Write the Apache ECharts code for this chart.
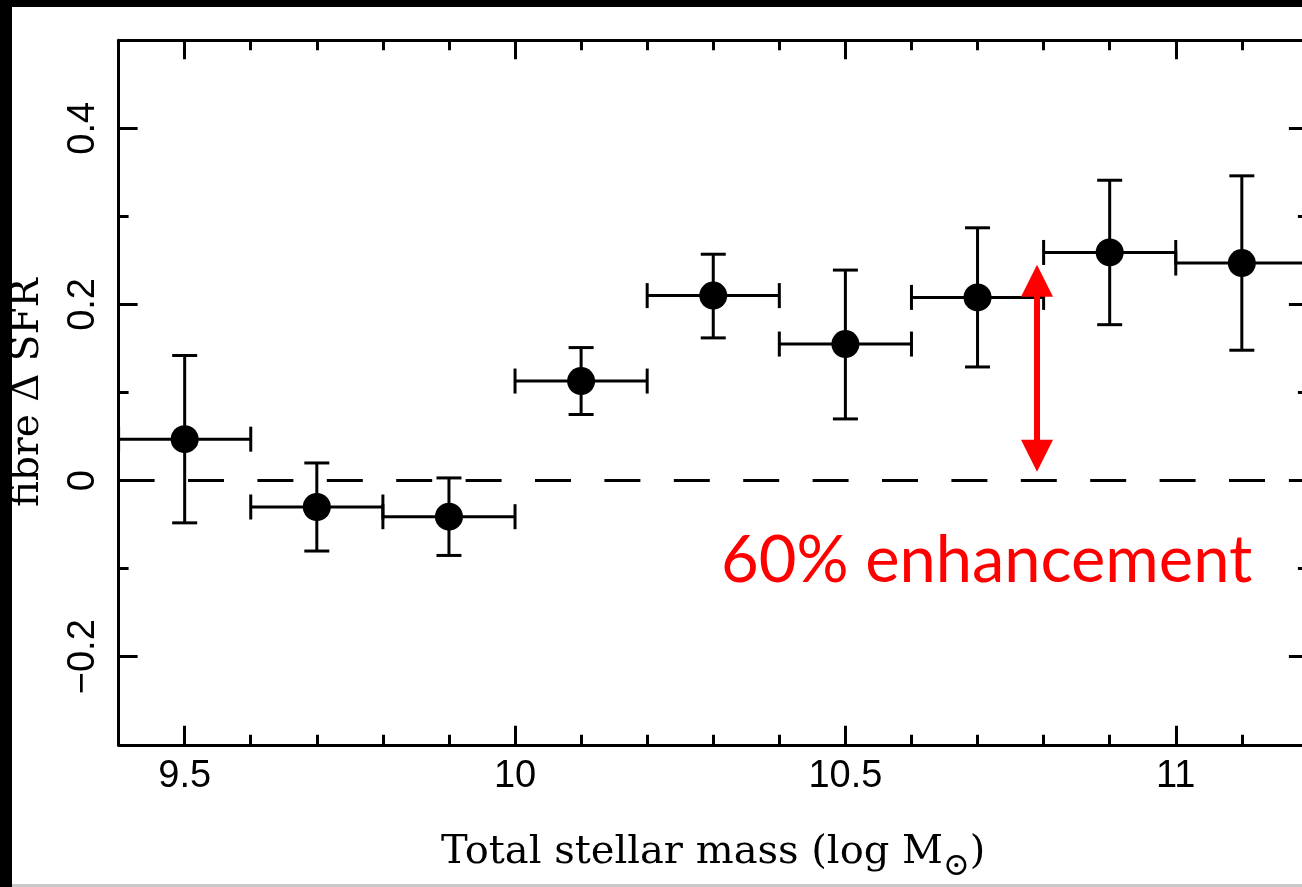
<!DOCTYPE html>
<html><head><meta charset="utf-8">
<script src="https://cdn.jsdelivr.net/npm/echarts@6/dist/echarts.min.js"></script>
<style>html,body{margin:0;padding:0;background:#fff}#c{width:1302px;height:887px}</style>
</head><body><div id="c"></div>
<script>
// ---- data ----
const massBins  = [9.5, 9.7, 9.9, 10.1, 10.3, 10.5, 10.7, 10.9, 11.1];
const binLow    = [9.4, 9.6, 9.8, 10.0, 10.2, 10.4, 10.6, 10.8, 11.0];
const binHigh   = [9.6, 9.8, 10.0, 10.2, 10.4, 10.6, 10.8, 11.0, 11.2];
const deltaSFR  = [0.047, -0.030, -0.041, 0.113, 0.210, 0.155, 0.208, 0.259, 0.247];
const errUpper  = [0.142, 0.020, 0.003, 0.151, 0.257, 0.239, 0.287, 0.341, 0.346];
const errLower  = [-0.048, -0.080, -0.085, 0.075, 0.162, 0.070, 0.129, 0.177, 0.148];
const xMajorTicks = [9.5, 10, 10.5, 11];
const xMinorTicks = [9.6, 9.7, 9.8, 9.9, 10.1, 10.2, 10.3, 10.4, 10.6, 10.7, 10.8, 10.9, 11.1];
const yMajorTicks = [-0.2, 0, 0.2, 0.4];
const yMinorTicks = [-0.1, 0.1, 0.3];
const zeroLine = [[9.4, 0], [11.2, 0]];
const arrowSpan = [[10.79, 0.01, 0.245]];
const annotationText = '60% enhancement';
const xName = 'Total stellar mass (log M{sub|⊙})';
const yName = 'fibre Δ SFR';

const X_MIN = 9.4, X_MAX = 11.2, Y_MIN = -0.3, Y_MAX = 0.5;
const LW = 3;
const tickFont = 'Liberation Sans';
const fmt = v => String(v).replace('-', '\u2212');

function xAxisDef(pos, ticks, len, withLabels, extra) {
  return Object.assign({
    type: 'value', position: pos, min: X_MIN, max: X_MAX, gridIndex: 0,
    axisLine: { show: false, onZero: false },
    axisTick: { show: true, inside: true, length: len, customValues: ticks, lineStyle: { color: '#000', width: LW } },
    axisLabel: withLabels ? { show: true, customValues: ticks, formatter: fmt, margin: 13, color: '#000', fontFamily: tickFont, fontSize: 38 } : { show: false },
    splitLine: { show: false }
  }, extra || {});
}
function yAxisDef(pos, ticks, len, withLabels, extra) {
  return Object.assign({
    type: 'value', position: pos, min: Y_MIN, max: Y_MAX, gridIndex: 0,
    axisLine: { show: false, onZero: false },
    axisTick: { show: true, inside: true, length: len, customValues: ticks, lineStyle: { color: '#000', width: LW } },
    axisLabel: withLabels ? { show: true, customValues: ticks, formatter: fmt, rotate: 90, margin: 16, color: '#000', fontFamily: tickFont, fontSize: 38 } : { show: false },
    splitLine: { show: false }
  }, extra || {});
}

const frameLine = { show: true, onZero: false, lineStyle: { color: '#000', width: LW } };

const option = {
  backgroundColor: '#fff',
  animation: false,
  grid: { left: 118.6, top: 40.2, width: 1189.3, height: 704.6, containLabel: false, outerBoundsMode: 'none' },
  xAxis: [
    xAxisDef('bottom', xMajorTicks, 19, true, {
      axisLine: frameLine,
      name: xName, nameLocation: 'middle', nameGap: 78,
      nameTextStyle: { color: '#000', fontFamily: 'DejaVu Serif', fontSize: 40,
        rich: { sub: { fontFamily: 'DejaVu Serif', fontSize: 32, color: '#000', padding: [28, 0, 0, 0] } } }
    }),
    xAxisDef('bottom', xMinorTicks, 10, false),
    xAxisDef('top', xMajorTicks, 19, false, { axisLine: frameLine }),
    xAxisDef('top', xMinorTicks, 10, false)
  ],
  yAxis: [
    yAxisDef('left', yMajorTicks, 19, true, {
      axisLine: frameLine,
      name: yName, nameLocation: 'middle', nameGap: 71, nameRotate: 90,
      nameTextStyle: { color: '#000', fontFamily: 'DejaVu Serif', fontSize: 39 }
    }),
    yAxisDef('left', yMinorTicks, 10, false),
    yAxisDef('right', yMajorTicks, 19, false, { axisLine: frameLine }),
    yAxisDef('right', yMinorTicks, 10, false)
  ],
  series: [
    {
      type: 'line', data: zeroLine, xAxisIndex: 0, yAxisIndex: 0, symbol: 'none', silent: true,
      lineStyle: { color: '#000', width: LW, type: [36, 33.4] }, z: 1
    },
    {
      type: 'custom', xAxisIndex: 0, yAxisIndex: 0, z: 2, clip: false,
      encode: { x: 0, y: 1 },
      data: massBins.map((m, i) => [m, deltaSFR[i], binLow[i], binHigh[i], errLower[i], errUpper[i]]),
      renderItem: function (params, api) {
        const x = api.value(0), y = api.value(1);
        const c = api.coord([x, y]);
        const pl = api.coord([api.value(2), y]), ph = api.coord([api.value(3), y]);
        const pb = api.coord([x, api.value(4)]), pt = api.coord([x, api.value(5)]);
        const cap = 12.5;
        const st = { stroke: '#000', lineWidth: LW, fill: null };
        const L = (x1, y1, x2, y2) => ({ type: 'line', shape: { x1, y1, x2, y2 }, style: st });
        return { type: 'group', children: [
          L(pl[0], c[1], ph[0], c[1]),
          L(pl[0], c[1] - cap, pl[0], c[1] + cap),
          L(ph[0], c[1] - cap, ph[0], c[1] + cap),
          L(c[0], pb[1], c[0], pt[1]),
          L(c[0] - cap, pb[1], c[0] + cap, pb[1]),
          L(c[0] - cap, pt[1], c[0] + cap, pt[1])
        ] };
      }
    },
    {
      type: 'scatter', xAxisIndex: 0, yAxisIndex: 0, z: 3,
      data: massBins.map((m, i) => [m, deltaSFR[i]]),
      symbol: 'circle', symbolSize: 28, itemStyle: { color: '#000', opacity: 1 }
    },
    {
      type: 'custom', xAxisIndex: 0, yAxisIndex: 0, z: 4, clip: false,
      encode: { x: 0, y: [1, 2] },
      data: arrowSpan,
      renderItem: function (params, api) {
        const pb = api.coord([api.value(0), api.value(1)]);
        const pt = api.coord([api.value(0), api.value(2)]);
        const hw = 16, hl = 32, x = pt[0];
        return { type: 'group', children: [
          { type: 'line', shape: { x1: x, y1: pt[1] + hl - 2, x2: x, y2: pb[1] - hl + 2 }, style: { stroke: '#ff0000', lineWidth: 6 } },
          { type: 'polygon', shape: { points: [[x, pt[1]], [x - hw, pt[1] + hl], [x + hw, pt[1] + hl]] }, style: { fill: '#ff0000' } },
          { type: 'polygon', shape: { points: [[x, pb[1]], [x - hw, pb[1] - hl], [x + hw, pb[1] - hl]] }, style: { fill: '#ff0000' } }
        ] };
      }
    }
  ],
  graphic: [
    { type: 'text', x: 721, y: 561, z: 10, style: { text: annotationText, fill: '#ff0000', font: '65px Lato', verticalAlign: 'middle', align: 'left' } },
    { type: 'rect', shape: { x: 0, y: 0, width: 12, height: 887 }, style: { fill: '#000' }, z: 20 },
    { type: 'rect', shape: { x: 0, y: 0, width: 1302, height: 7 }, style: { fill: '#000' }, z: 20 },
    { type: 'rect', shape: { x: 12, y: 884, width: 1290, height: 3 }, style: { fill: '#c8c8c8' }, z: 20 }
  ]
};

const chart = echarts.init(document.getElementById('c'), null, { renderer: 'canvas' });
chart.setOption(option);
</script>
</body></html>
